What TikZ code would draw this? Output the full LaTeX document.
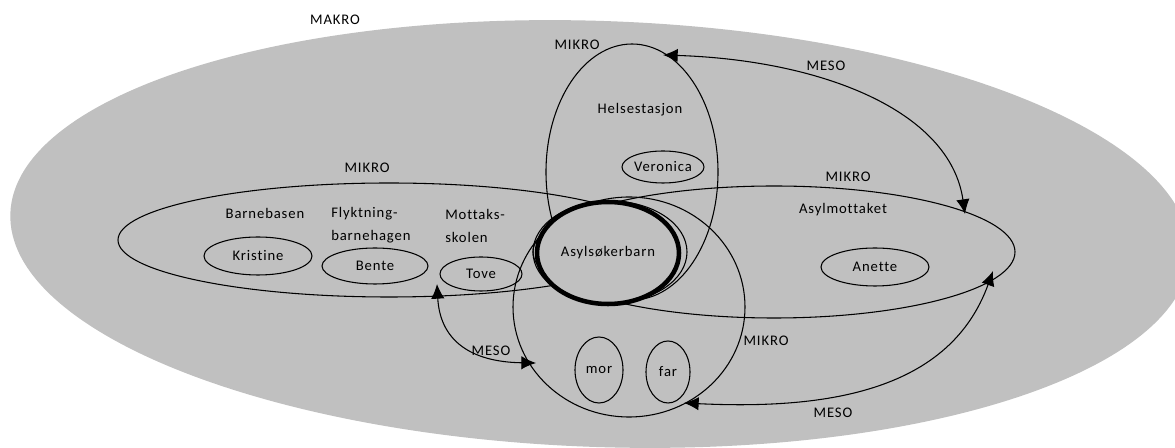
\documentclass[tikz,border=0pt]{standalone}
\usepackage{fontspec}
\setmainfont{Carlito}[LetterSpace=6.0, Ligatures=NoCommon]
\usetikzlibrary{shapes.geometric, arrows.meta}
\definecolor{makro}{RGB}{192,192,192}
\begin{document}
\begin{tikzpicture}[x=0.75pt, y=-0.75pt,
  every node/.style={font=\fontsize{11}{17}\selectfont, text=black},
  mikro/.style={ellipse, draw=black, line width=0.8pt, inner sep=0pt},
  person/.style={ellipse, draw=black, line width=0.8pt, inner sep=0pt},
  lbl/.style={inner sep=0pt},
  mesoline/.style={line width=0.8pt, {Latex[length=11pt,width=10pt]}-{Latex[length=11pt,width=10pt]}}
]
\useasboundingbox (0,0) rectangle (1175,448);
\fill[white] (0,0) rectangle (1175,448);
\begin{scope}
  \clip (0,0) rectangle (1175,448);
  \fill[makro, rotate around={-2:(600,234)}] (600,234) ellipse [x radius=590, y radius=213];
\end{scope}

% MIKRO systems
\node[mikro, minimum width=406.5pt, minimum height=85.5pt] (mikroL) at (389,240) {};
\node[mikro, minimum width=361.5pt, minimum height=99pt] (mikroR) at (774,252) {};
\node[mikro, minimum width=129pt, minimum height=192pt] (mikroH) at (632,172) {};
\node[mikro, minimum width=174pt, minimum height=165pt] (mikroF) at (629,307) {};

% persons
\node[person, minimum width=81pt, minimum height=28.5pt] (kristine) at (258,256) {Kristine};
\node[person, minimum width=79.5pt, minimum height=27pt] (bente) at (375,266) {Bente};
\node[person, minimum width=61.5pt, minimum height=25.5pt] (tove) at (481,274) {Tove};
\node[person, minimum width=61.5pt, minimum height=24pt] (veronica) at (663,167) {Veronica};
\node[person, minimum width=81pt, minimum height=28.5pt] (anette) at (875,267) {Anette};
\node[person, minimum width=36pt, minimum height=49.5pt] (mor) at (599,370) {mor};
\node[person, minimum width=33pt, minimum height=46.5pt] (far) at (668,372) {far};

% child
\node[ellipse, draw=black, line width=0.8pt, inner sep=0pt, minimum width=115.5pt, minimum height=76.5pt] (halo) at (610,252) {};
\node[ellipse, draw=black, fill=makro, line width=3.4pt, inner sep=0pt, minimum width=106.5pt, minimum height=76.5pt] (barn) at (608,253) {Asylsøkerbarn};

% MESO connectors
\coordinate (hTip) at (663,55);
\coordinate (rTop) at (965,214);
\coordinate (rBot) at (993,271);
\coordinate (lTip) at (437,284);
\coordinate (fLeft) at (536,363);
\coordinate (fFar) at (684,403);
\draw[mesoline] (hTip) .. controls (820,60) and (950,110) .. (rTop);
\draw[mesoline] (fFar) .. controls (830,410) and (950,390) .. (rBot);
\draw[mesoline] (lTip) .. controls (440,340) and (470,362) .. (fLeft);

% labels
\node[lbl] (tMakro) at (335,20) {MAKRO};
\node[lbl] (tMikroH) at (577,45) {MIKRO};
\node[lbl] (tHelse) at (640,110) {Helsestasjon};
\node[lbl] (tMesoTop) at (826,66) {MESO};
\node[lbl] (tMikroL) at (367,168) {MIKRO};
\node[lbl] (tMikroR) at (848,177) {MIKRO};
\node[lbl] (tBarnebasen) at (265,213) {Barnebasen};
\node[lbl, anchor=west, align=left] (tFlykt) at (331,225) {Flyktning-\\barnehagen};
\node[lbl, anchor=west, align=left] (tMottak) at (445,226) {Mottaks-\\skolen};
\node[lbl] (tAsylm) at (843,210) {Asylmottaket};
\node[lbl] (tMesoL) at (491,351) {MESO};
\node[lbl] (tMikroF) at (766,341) {MIKRO};
\node[lbl] (tMesoR) at (833,413) {MESO};
\end{tikzpicture}
\end{document}
